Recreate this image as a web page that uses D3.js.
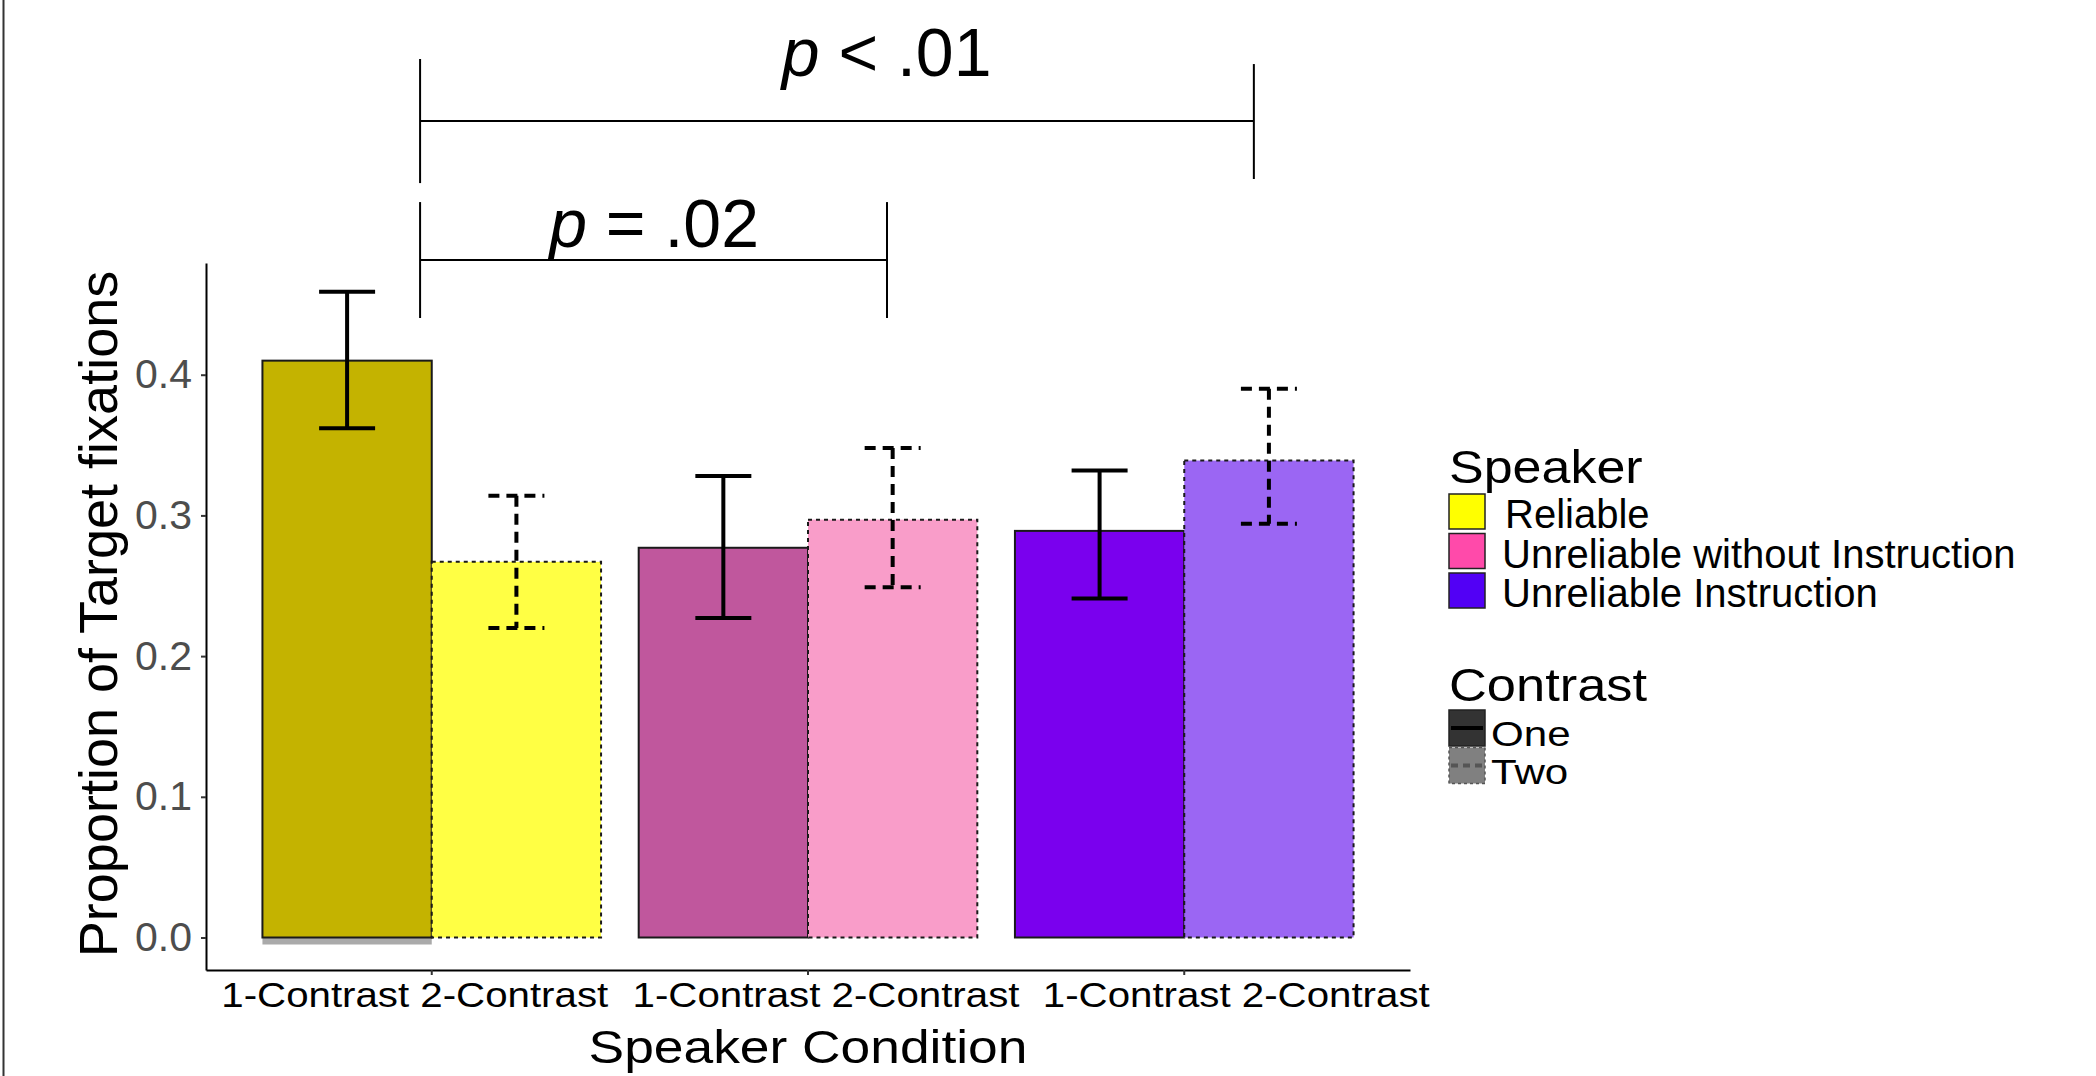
<!DOCTYPE html>
<html>
<head>
<meta charset="utf-8">
<script src="https://cdn.jsdelivr.net/npm/d3@7"></script>
<style>
body { margin: 0; background: #fff; }
text { font-family: "Liberation Sans", Arial, Helvetica, sans-serif; }
</style>
</head>
<body>
<svg width="2096" height="1076"></svg>
<script>
var svg = d3.select('svg');
var width = +svg.attr('width');
var height = +svg.attr('height');

// data
var speakers = ['Reliable', 'Unreliable without Instruction', 'Unreliable Instruction'];
var contrasts = ['One', 'Two'];
var means = [[0.410, 0.267], [0.277, 0.297], [0.289, 0.339]];
var lower = [[0.362, 0.220], [0.227, 0.249], [0.241, 0.294]];
var upper = [[0.459, 0.314], [0.328, 0.348], [0.332, 0.390]];
var tickLabels = ['1-Contrast 2-Contrast', '1-Contrast 2-Contrast', '1-Contrast 2-Contrast'];
var yTicks = [0, 0.1, 0.2, 0.3, 0.4];

// fills: one row per speaker, [One, Two]
var barColors = [['#c4b300', '#ffff44'], ['#c0579d', '#f99dc9'], ['#7a00ee', '#9b66f3']];
var keyColors = ['#ffff00', '#ff4aaa', '#5200f5'];

// significance brackets (x in group units, 1 = first group)
var brackets = [
  {x1: 0.969, x2: 3.185, y: 0.5803, t1: 0.6244, b1: 0.5362, t2: 0.6208, b2: 0.5391, label: ' < .01', tx: 1.93, ty: 0.6123},
  {x1: 0.969, x2: 2.21, y: 0.4815, t1: 0.5227, b1: 0.4403, t2: 0.5227, b2: 0.4403, label: ' = .02', tx: 1.312, ty: 0.4908}
];

// the tick labels in the figure sit a little off their ticks
var labelShift = [-17, 18, 52];

svg.append('rect').attr('width', width).attr('height', height).attr('fill', '#fff');
svg.append('line')
  .attr('x1', 3.5).attr('x2', 3.5).attr('y1', 0).attr('y2', height)
  .style('stroke', '#333').style('stroke-width', 2);

var plotLeft = 206, plotRight = 1410, plotTop = 263, plotBottom = 970;

var xBand = d3.scaleBand()
  .domain(speakers)
  .range([plotLeft, plotRight])
  .paddingInner(0.1)
  .paddingOuter(0.15);
var xInner = d3.scaleBand()
  .domain(contrasts)
  .range([0, xBand.bandwidth()]);
var xUnit = d3.scaleLinear()
  .domain([0.4, 3.6])
  .range([plotLeft, plotRight]);
var yScale = d3.scaleLinear()
  .domain([-0.0231, 0.4794])
  .range([plotBottom, plotTop]);

// bars
var bars = [];
for (var i = 0; i < speakers.length; i++) {
  for (var j = 0; j < contrasts.length; j++) {
    bars.push({s: i, c: j, mean: means[i][j], lo: lower[i][j], hi: upper[i][j]});
  }
}

var chart = svg.append('g').attr('class', 'chart');

// faint grey band under the first bar, as in the figure
chart.append('rect')
  .attr('x', xBand(speakers[0]) + xInner(contrasts[0]))
  .attr('y', yScale(0))
  .attr('width', xInner.bandwidth())
  .attr('height', 7)
  .attr('fill', '#aaaaaa');

chart.selectAll('rect.bar')
  .data(bars)
  .enter()
  .append('rect')
  .attr('class', 'bar')
  .attr('x', function(d) { return xBand(speakers[d.s]) + xInner(contrasts[d.c]); })
  .attr('y', function(d) { return yScale(d.mean); })
  .attr('width', xInner.bandwidth())
  .attr('height', function(d) { return yScale(0) - yScale(d.mean); })
  .attr('fill', function(d) { return barColors[d.s][d.c]; })
  .style('stroke', '#1a1a1a')
  .style('stroke-width', 2)
  .style('stroke-dasharray', function(d) { return d.c == 1 ? '4,4' : null; });

// error bars
var capHalf = 28;
var err = chart.selectAll('g.err')
  .data(bars)
  .enter()
  .append('g')
  .attr('class', 'err')
  .attr('transform', function(d) {
    return 'translate(' + (xBand(speakers[d.s]) + xInner(contrasts[d.c]) + xInner.bandwidth() / 2) + ',0)';
  })
  .style('stroke', '#000')
  .style('stroke-width', 4)
  .style('stroke-dasharray', function(d) { return d.c == 1 ? '11,7' : null; });
err.append('line')
  .attr('x1', 0).attr('x2', 0)
  .attr('y1', function(d) { return yScale(d.hi); })
  .attr('y2', function(d) { return yScale(d.lo); });
err.append('line')
  .attr('x1', -capHalf).attr('x2', capHalf)
  .attr('y1', function(d) { return yScale(d.hi); })
  .attr('y2', function(d) { return yScale(d.hi); });
err.append('line')
  .attr('x1', -capHalf).attr('x2', capHalf)
  .attr('y1', function(d) { return yScale(d.lo); })
  .attr('y2', function(d) { return yScale(d.lo); });

// axes
var yAxis = d3.axisLeft(yScale)
  .tickValues(yTicks)
  .tickFormat(d3.format('.1f'))
  .tickSize(5)
  .tickSizeOuter(0)
  .tickPadding(9);
var gy = svg.append('g')
  .attr('class', 'y-axis')
  .attr('transform', 'translate(' + plotLeft + ',0)')
  .call(yAxis);
gy.select('.domain').style('stroke', '#000').style('stroke-width', 2);
gy.selectAll('.tick line').style('stroke', '#333').style('stroke-width', 2);
gy.selectAll('.tick text')
  .style('font-size', '41px')
  .style('fill', '#4d4d4d')
  .style('font-family', '"Liberation Sans", Arial, sans-serif');

var xAxis = d3.axisBottom(xBand)
  .tickFormat(function(d, i) { return tickLabels[i]; })
  .tickSize(5)
  .tickSizeOuter(0);
var gx = svg.append('g')
  .attr('class', 'x-axis')
  .attr('transform', 'translate(0,' + plotBottom + ')')
  .call(xAxis);
gx.select('.domain').style('stroke', '#000').style('stroke-width', 2);
gx.selectAll('.tick line').style('stroke', '#333').style('stroke-width', 2);
gx.selectAll('.tick text')
  .attr('y', 37)
  .attr('dy', 0)
  .attr('transform', function(d, i) { return 'translate(' + labelShift[i] + ',0) scale(1.15,1)'; })
  .style('font-size', '35px')
  .style('fill', '#000')
  .style('font-family', '"Liberation Sans", Arial, sans-serif');

// axis titles
svg.append('text')
  .attr('transform', 'translate(' + ((plotLeft + plotRight) / 2) + ',1063) scale(1.16,1)')
  .attr('text-anchor', 'middle')
  .style('font-size', '46px')
  .text('Speaker Condition');
svg.append('text')
  .attr('transform', 'translate(117,614) rotate(-90)')
  .attr('text-anchor', 'middle')
  .style('font-size', '54px')
  .text('Proportion of Target fixations');

// significance brackets
var br = svg.selectAll('g.bracket')
  .data(brackets)
  .enter()
  .append('g')
  .attr('class', 'bracket')
  .style('stroke', '#000')
  .style('stroke-width', 2);
br.append('line')
  .attr('x1', function(d) { return xUnit(d.x1); })
  .attr('x2', function(d) { return xUnit(d.x2); })
  .attr('y1', function(d) { return yScale(d.y); })
  .attr('y2', function(d) { return yScale(d.y); });
br.append('line')
  .attr('x1', function(d) { return xUnit(d.x1); })
  .attr('x2', function(d) { return xUnit(d.x1); })
  .attr('y1', function(d) { return yScale(d.t1); })
  .attr('y2', function(d) { return yScale(d.b1); });
br.append('line')
  .attr('x1', function(d) { return xUnit(d.x2); })
  .attr('x2', function(d) { return xUnit(d.x2); })
  .attr('y1', function(d) { return yScale(d.t2); })
  .attr('y2', function(d) { return yScale(d.b2); });
var pt = br.append('text')
  .attr('x', function(d) { return xUnit(d.tx); })
  .attr('y', function(d) { return yScale(d.ty); })
  .style('stroke', 'none')
  .style('fill', '#000')
  .style('font-size', '68px')
  .style('white-space', 'pre');
pt.append('tspan').style('font-style', 'italic').text('p');
pt.append('tspan').text(function(d) { return d.label; });

// legend: Speaker
var lx = 1449;
var leg = svg.append('g').attr('class', 'legend');
leg.append('text')
  .attr('transform', 'translate(' + lx + ',483) scale(1.13,1)')
  .style('font-size', '46px')
  .text('Speaker');
var keys = leg.selectAll('g.key')
  .data(speakers)
  .enter()
  .append('g')
  .attr('class', 'key')
  .attr('transform', function(d, i) { return 'translate(' + lx + ',' + (494 + i * 39.5) + ')'; });
keys.append('rect')
  .attr('width', 36)
  .attr('height', 35)
  .attr('fill', function(d, i) { return keyColors[i]; })
  .style('stroke', '#222')
  .style('stroke-width', 1.5);
keys.append('text')
  .attr('x', function(d, i) { return i == 0 ? 56 : 53; })
  .attr('y', 34)
  .style('font-size', '40px')
  .text(function(d) { return d; });

// legend: Contrast
leg.append('text')
  .attr('transform', 'translate(' + lx + ',701) scale(1.14,1)')
  .style('font-size', '46px')
  .text('Contrast');
var ckeys = leg.selectAll('g.ckey')
  .data(contrasts)
  .enter()
  .append('g')
  .attr('class', 'ckey')
  .attr('transform', function(d, i) { return 'translate(' + lx + ',' + (710 + i * 37.5) + ')'; });
ckeys.append('rect')
  .attr('width', 36)
  .attr('height', 36)
  .attr('fill', function(d, i) { return i == 0 ? '#333333' : '#808080'; })
  .style('stroke', function(d, i) { return i == 0 ? '#222' : '#555'; })
  .style('stroke-width', 1.5)
  .style('stroke-dasharray', function(d, i) { return i == 1 ? '3,3' : null; });
ckeys.append('line')
  .attr('x1', 2).attr('x2', 34)
  .attr('y1', 18).attr('y2', 18)
  .style('stroke', function(d, i) { return i == 0 ? '#000' : '#555'; })
  .style('stroke-width', 4)
  .style('stroke-dasharray', function(d, i) { return i == 1 ? '7,5' : null; });
ckeys.append('text')
  .attr('transform', 'translate(42,36) scale(1.17,1)')
  .style('font-size', '36px')
  .text(function(d) { return d; });
</script>
</body>
</html>
